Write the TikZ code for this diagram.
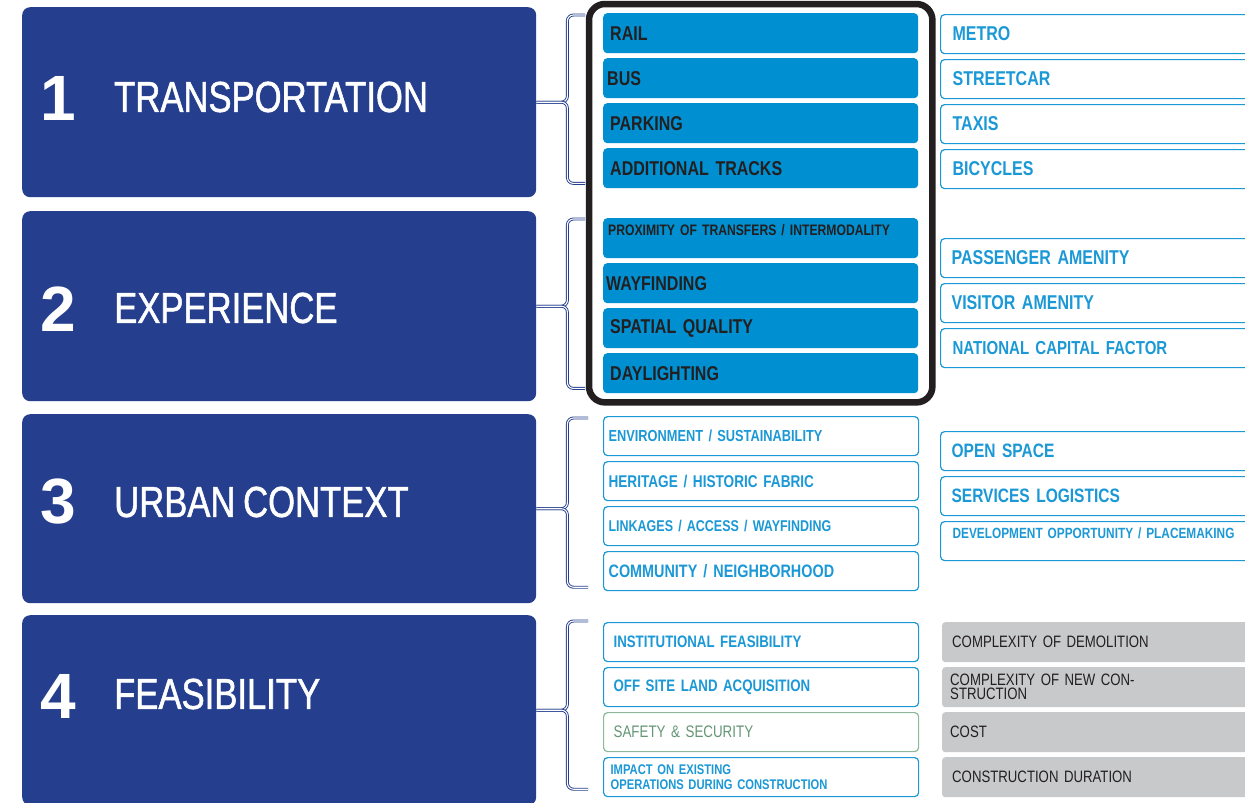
\documentclass[tikz,border=0pt]{standalone}
\usepackage{fontspec}
\setmainfont{Liberation Sans}
\newfontfamily\condfont[FakeStretch=0.8,WordSpace=0.6]{Liberation Sans}
\newfontfamily\headfont[FakeStretch=0.8,FakeBold=1.2,WordSpace=0.8]{Liberation Sans}
\usepackage{tikz}
\usetikzlibrary{positioning,fit}
\definecolor{navy}{RGB}{37,63,142}
\definecolor{barblue}{RGB}{0,143,208}
\definecolor{lineblue}{RGB}{27,152,214}
\definecolor{ink}{RGB}{35,31,32}
\definecolor{greyfill}{RGB}{200,201,203}
\definecolor{safegreen}{RGB}{140,185,155}
\definecolor{safetext}{RGB}{100,150,118}
\newcommand{\condsize}[2]{\condfont\fontsize{#1}{#2}\selectfont}

\begin{document}
\begin{tikzpicture}[
    x=1pt, y=-1pt,
    groupbox/.style={
        fill=navy,
        rounded corners=8pt,
        minimum width=514pt,
        minimum height=190pt,
        inner sep=0pt,
        anchor=north west
    },
    numtext/.style={
        text=white,
        font=\bfseries\fontsize{64}{64}\selectfont,
        inner sep=0pt,
        anchor=west
    },
    titletext/.style={
        text=white,
        font=\headfont\fontsize{43.3}{44}\selectfont,
        inner sep=0pt,
        anchor=west
    },
    fillbox/.style={
        fill=barblue,
        rounded corners=4pt,
        text width=301pt,
        inner xsep=7pt,
        inner ysep=0pt,
        minimum height=40pt,
        align=left,
        anchor=north west,
        text=ink,
        font=\condsize{20}{22}\bfseries
    },
    linebox/.style={
        draw=lineblue,
        line width=1.2pt,
        fill=white,
        rounded corners=4pt,
        text width=305pt,
        inner xsep=5pt,
        inner ysep=0pt,
        minimum height=39pt,
        align=left,
        anchor=north west,
        text=lineblue,
        font=\condsize{20}{22}\bfseries
    },
    sidebox/.style={
        linebox,
        text width=300pt,
        inner xsep=12pt
    },
    greybox/.style={
        fill=greyfill,
        rounded corners=3pt,
        text width=306pt,
        inner xsep=8pt,
        inner ysep=0pt,
        minimum height=40pt,
        align=left,
        anchor=north west,
        text=ink,
        font=\condsize{16.5}{14}
    },
    safebox/.style={
        linebox,
        draw=safegreen,
        text=safetext,
        font=\condsize{16.7}{18}
    },
    frame/.style={
        draw=ink,
        line width=6.5pt,
        rounded corners=16pt,
        inner xsep=14pt,
        inner ysep=9pt
    },
    brace/.style={
        draw=navy,
        double=white,
        double distance=1.1pt,
        line width=0.9pt,
        rounded corners=6pt
    }
]
\useasboundingbox (0,0) rectangle (1245,803);
\fill[white] (0,0) rectangle (1245,803);
\clip (0,0) rectangle (1245,803);

% group 1
\node[groupbox] (g1) at (22,7) {};
\node[numtext] (n1) at (40,98) {1};
\node[titletext] (t1) at (114,97) {TRANSPORTATION};

\node[fillbox] (rail) at (603,13) {RAIL};
\node[fillbox] (bus) at (603,58) {\hspace*{-3pt}BUS};
\node[fillbox] (parking) at (603,103) {PARKING};
\node[fillbox] (addtr) at (603,148) {ADDITIONAL TRACKS};

\node[sidebox] (metro) at (940,14) {METRO};
\node[sidebox] (streetcar) at (940,59) {STREETCAR};
\node[sidebox] (taxis) at (940,104) {TAXIS};
\node[sidebox] (bicycles) at (940,149) {BICYCLES};

% group 2
\node[groupbox] (g2) at (22,211) {};
\node[numtext] (n2) at (40,309) {2};
\node[titletext] (t2) at (114,308) {EXPERIENCE};

\node[fillbox, font=\condsize{15.2}{16}\bfseries] (proximity) at (603,218)
{\hspace*{-2pt}PROXIMITY OF TRANSFERS / INTERMODALITY\\\mbox{}};
\node[fillbox] (wayfinding) at (603,263) {\hspace*{-4pt}WAYFINDING};
\node[fillbox] (spatial) at (603,308) {SPATIAL QUALITY};
\node[fillbox] (daylight) at (603,353) {DAYLIGHTING};

\node[sidebox, inner xsep=11pt] (passenger) at (940,238) {PASSENGER AMENITY};
\node[sidebox, inner xsep=11pt] (visitor) at (940,283) {VISITOR AMENITY};
\node[sidebox, font=\condsize{18.8}{20}\bfseries] (capital) at (940,328) {NATIONAL CAPITAL FACTOR};

% group 3
\node[groupbox, minimum height=189pt] (g3) at (22,414) {};
\node[numtext] (n3) at (40,502) {3};
\node[titletext] (t3) at (114,502) {URBAN CONTEXT};

\node[linebox, font=\condsize{16}{18}\bfseries] (environment) at (603,416) {ENVIRONMENT / SUSTAINABILITY};
\node[linebox, font=\condsize{17}{18}\bfseries] (heritage) at (603,461) {HERITAGE / HISTORIC FABRIC};
\node[linebox, font=\condsize{15.6}{18}\bfseries] (linkages) at (603,506) {LINKAGES / ACCESS / WAYFINDING};
\node[linebox, font=\condsize{18}{20}\bfseries] (community) at (603,551) {COMMUNITY / NEIGHBORHOOD};

\node[sidebox, inner xsep=11pt, font=\condsize{19.4}{20}\bfseries] (openspace) at (940,431) {OPEN SPACE};
\node[sidebox, inner xsep=11pt, font=\condsize{19.4}{20}\bfseries] (services) at (940,476) {SERVICES LOGISTICS};
\node[sidebox, font=\condsize{14.8}{16}\bfseries] (devopp) at (940,521)
{DEVELOPMENT OPPORTUNITY / PLACEMAKING\\\mbox{}};

% group 4
\node[groupbox] (g4) at (22,615) {};
\node[numtext] (n4) at (40,696) {4};
\node[titletext] (t4) at (114,694) {FEASIBILITY};

\node[linebox, font=\condsize{16.6}{18}\bfseries] (institutional) at (603,622) {\hspace*{5pt}INSTITUTIONAL FEASIBILITY};
\node[linebox, font=\condsize{16.6}{18}\bfseries] (offsite) at (603,667) {\hspace*{5pt}OFF SITE LAND ACQUISITION};
\node[safebox] (safety) at (603,712) {\hspace*{5pt}SAFETY \& SECURITY};
\node[linebox, inner xsep=7pt, text width=301pt, font=\condsize{14}{15}\bfseries] (impact) at (603,757)
{IMPACT ON EXISTING\\OPERATIONS DURING CONSTRUCTION};

\node[greybox, inner xsep=10pt] (demolition) at (942,622) {COMPLEXITY OF DEMOLITION};
\node[greybox] (newcon) at (942,667) {COMPLEXITY OF NEW CON-\\STRUCTION};
\node[greybox] (cost) at (942,712) {COST};
\node[greybox, inner xsep=10pt] (duration) at (942,757) {CONSTRUCTION DURATION};

% highlight frame
\node[frame, fit=(rail)(daylight)] (focus) {};

% braces
\draw[brace] ([xshift=-18pt,yshift=-2pt]rail.north west) -| ([xshift=31pt]g1.east) -- (g1.east);
\draw[brace] ([xshift=-18pt,yshift=5pt]addtr.south west) -| ([xshift=31pt]g1.east) -- (g1.east);
\draw[brace] ([xshift=-18pt,yshift=-1pt]proximity.north west) -| ([xshift=31pt]g2.east) -- (g2.east);
\draw[brace] ([xshift=-18pt,yshift=5pt]daylight.south west) -| ([xshift=31pt]g2.east) -- (g2.east);
\draw[brace] ([xshift=-15pt,yshift=-2pt]environment.north west) -| ([xshift=31pt]g3.east) -- (g3.east);
\draw[brace] ([xshift=-15pt,yshift=4pt]community.south west) -| ([xshift=31pt]g3.east) -- (g3.east);
\draw[brace] ([xshift=-15pt,yshift=1pt]institutional.north west) -| ([xshift=31pt]g4.east) -- (g4.east);
\draw[brace] ([xshift=-15pt,yshift=8pt]impact.south west) -| ([xshift=31pt]g4.east) -- (g4.east);

\end{tikzpicture}
\end{document}
